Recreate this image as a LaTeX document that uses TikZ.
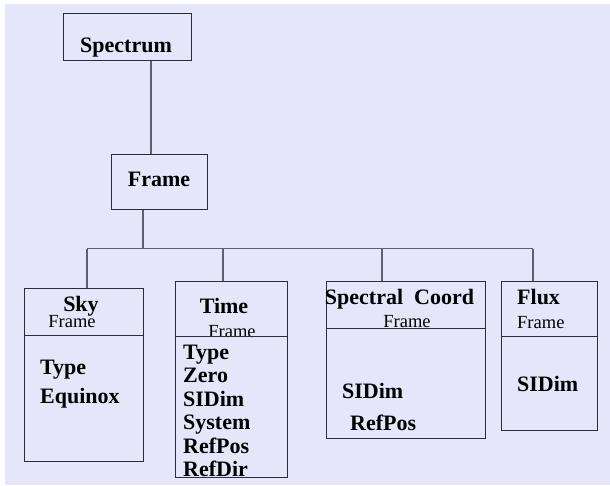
\documentclass[tikz,border=0pt]{standalone}
\usepackage{fontspec}
\setmainfont{Liberation Serif}
\usetikzlibrary{positioning}
\tikzset{
    umlbox/.style={rectangle, draw=boxgray, line width=1pt, anchor=north west, inner sep=0pt},
    umltitle/.style={font=\fontsize{22}{24}\selectfont\bfseries, inner sep=0pt, anchor=base},
    umlsub/.style={font=\fontsize{18.5}{20}\selectfont, inner sep=0pt, anchor=base},
    umlitem/.style={font=\fontsize{22}{24}\selectfont\bfseries, inner sep=0pt, anchor=base west},
    umlline/.style={draw=treegray, line width=1.3pt},
    umldiv/.style={draw=boxgray, line width=1pt}
}
\definecolor{bglav}{RGB}{230,230,250}
\definecolor{boxgray}{RGB}{45,45,55}
\definecolor{treegray}{RGB}{95,95,110}

\begin{document}
\begin{tikzpicture}[x=1pt, y=-1pt]
\useasboundingbox (0,0) rectangle (610,485);
\fill[bglav] (5,4) rectangle (610,485);

% top of the tree
\node[umlbox, minimum width=128pt, minimum height=47pt] (spec) at (63,13) {};
\node[umlbox, minimum width=96pt, minimum height=55pt] (frame) at (111,154) {};
\node[umltitle] (spect) at (126,52) {Spectrum};
\node[umltitle] (framet) at (159,186) {Frame};

% the four frames
\node[umlbox, minimum width=119pt, minimum height=173pt] (sky) at (24,288) {};
\node[umlbox, minimum width=112pt, minimum height=196pt] (time) at (175,281) {};
\node[umlbox, minimum width=159pt, minimum height=157pt] (coord) at (326,281) {};
\node[umlbox, minimum width=96pt, minimum height=149pt] (flux) at (501,281) {};

\node[umltitle] (skyt) at (81,311) {Sky};
\node[umlsub] (skys) at (72,327) {Frame};
\node[umlitem] (sky1) at (40,374) {Type};
\node[umlitem] (sky2) at (40,403) {Equinox};

\node[umltitle] (timet) at (224,313) {Time};
\node[umlsub] (times) at (232,337) {Frame};
\foreach \t [count=\i] in {Type,Zero,SIDim,System,RefPos,RefDir}
    \node[umlitem] (time\i) at (183,335.5+23.5*\i) {\t};

\node[umltitle] (coordt) at (399.5,304) {Spectral\ \ Coord};
\node[umlsub] (coords) at (407,327) {Frame};
\node[umlitem] (coord1) at (342,398) {SIDim};
\node[umlitem] (coord2) at (350,430) {RefPos};

\node[umlitem] (fluxt) at (517,304) {Flux};
\node[umlsub, anchor=base west] (fluxs) at (517,328) {Frame};
\node[umlitem] (flux1) at (517,391) {SIDim};

% dividers
\draw[umldiv] ([yshift=-47pt]sky.north west) -- ([yshift=-47pt]sky.north east);
\draw[umldiv] ([yshift=-55pt]time.north west) -- ([yshift=-55pt]time.north east);
\draw[umldiv] ([yshift=-47pt]coord.north west) -- ([yshift=-47pt]coord.north east);
\draw[umldiv] ([yshift=-55pt]flux.north west) -- ([yshift=-55pt]flux.north east);

% connectors
\coordinate (dspec) at (151,0);
\coordinate (dframe) at (143,248.5);
\draw[umlline] (dspec |- spec.south) -- (dspec |- frame.north);
\draw[umlline] (dframe |- frame.south) -- (dframe);
\foreach \n/\x in {sky/87, time/223, coord/382, flux/533} {
    \coordinate (d\n) at (\x,248.5);
    \draw[umlline] (d\n) -- (d\n |- \n.north);
}
\draw[umlline] (dsky) -- (dflux);

\end{tikzpicture}
\end{document}
